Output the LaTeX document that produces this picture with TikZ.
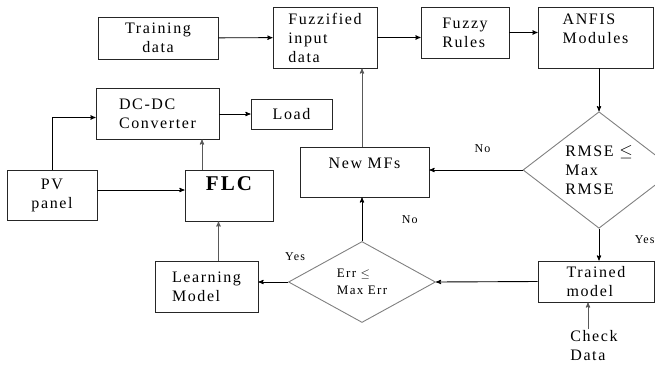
\documentclass[tikz,border=0pt]{standalone}
\usepackage{fontspec}
\setmainfont{Liberation Serif}[LetterSpace=10]
\usetikzlibrary{shapes.geometric, arrows, calc}
\tikzset{
->, % directed connectors
>=stealth', % filled arrow heads
block/.style={draw=black!85, line width=0.9pt, inner sep=2pt}, % plain boxes
test/.style={diamond, draw=gray, line width=0.9pt, inner sep=0pt, align=left}, % decision nodes
lbl/.style={font=\fontsize{12}{14}\selectfont}, % Yes / No labels
gline/.style={draw=gray!70!black}, % the lighter connectors
}

\begin{document}
\begin{tikzpicture}[x=1pt, y=-1pt, line width=0.9pt, font=\fontsize{16}{19}\selectfont]
  \useasboundingbox (0,0) rectangle (655,364);
  % training loop
  \node[block, minimum width=120pt, minimum height=42pt, align=center] (train) at (158,38) {Training\\data};
  \node[block, minimum width=104pt, minimum height=61pt, align=left] (fuzin) at (325,37.5) {Fuzzified\\input\\data};
  \node[block, minimum width=88pt, minimum height=51pt, align=left] (rules) at (465,32.5) {Fuzzy\\Rules};
  \node[block, minimum width=115pt, minimum height=61pt, align=left, text depth=18pt] (anfis) at (595.5,37.5) {ANFIS\\Modules};
  \node[test, minimum width=152pt, minimum height=101pt] (rmse) at (599,170) {RMSE $\leq$\\Max\\RMSE};
  \node[block, minimum width=116pt, minimum height=41pt, align=left] (trained) at (596,281.5) {Trained\\model};
  \node[align=left, inner sep=1pt] (check) at (594,346) {Check\\Data};
  \node[test, minimum width=147pt, minimum height=81pt, font=\fontsize{13}{17}\selectfont] (errd) at (362,282) {Err $\leq$\\Max Err};
  \node[block, minimum width=129pt, minimum height=50pt, text depth=18pt] (newmf) at (364.5,172) {New MFs};
  % controller side
  \node[block, minimum width=103pt, minimum height=51pt, align=left] (learn) at (206.5,286.5) {Learning\\Model};
  \node[block, minimum width=88pt, minimum height=51pt, font=\fontsize{21}{24}\bfseries, text depth=24pt] (flc) at (229,195.5) {FLC};
  \node[block, minimum width=90pt, minimum height=50pt, align=center] (pv) at (52,195) {PV\\panel};
  \node[block, minimum width=123pt, minimum height=51pt, align=left] (dcdc) at (157.5,113.5) {DC-DC\\Converter};
  \node[block, minimum width=81pt, minimum height=30pt] (load) at (291.5,114) {Load};

  \path (train) edge (fuzin)
  (fuzin.east) edge (rules.west |- fuzin.east)
  (rules.east) edge (anfis.west |- rules.east)
  (anfis.south -| rmse.north) edge (rmse.north)
  (rmse.west) edge node[lbl, pos=0.43, above=14pt] {No} (rmse.west -| newmf.east)
  (rmse.south) edge node[lbl, pos=0.35, right=32pt] {Yes} (rmse.south |- trained.north)
  (trained.west) edge (errd.east)
  (errd.north) edge node[lbl, midway, right=36pt] {No} (errd.north |- newmf.south)
  (errd.west) edge node[lbl, pos=0, above=18pt, xshift=7pt] {Yes} (errd.west -| learn.east)
  (dcdc.east |- load.west) edge (load.west)
  ([yshift=5pt]pv.east) edge ([yshift=5pt]pv.east -| flc.west);
  \draw[gline] (errd.north |- newmf.north) -- (errd.north |- fuzin.south);
  \draw[gline] ([xshift=12pt]learn.north) -- ([xshift=12pt]learn.north |- flc.south);
  \draw[gline] ([xshift=-27pt]flc.north) -- ([xshift=-27pt]flc.north |- dcdc.south);
  \draw[gline] ([xshift=-6pt]check.north) -- ([xshift=-6pt]check.north |- trained.south);
  \draw (pv.north) |- ([yshift=-4pt]dcdc.west);
\end{tikzpicture}
\end{document}
